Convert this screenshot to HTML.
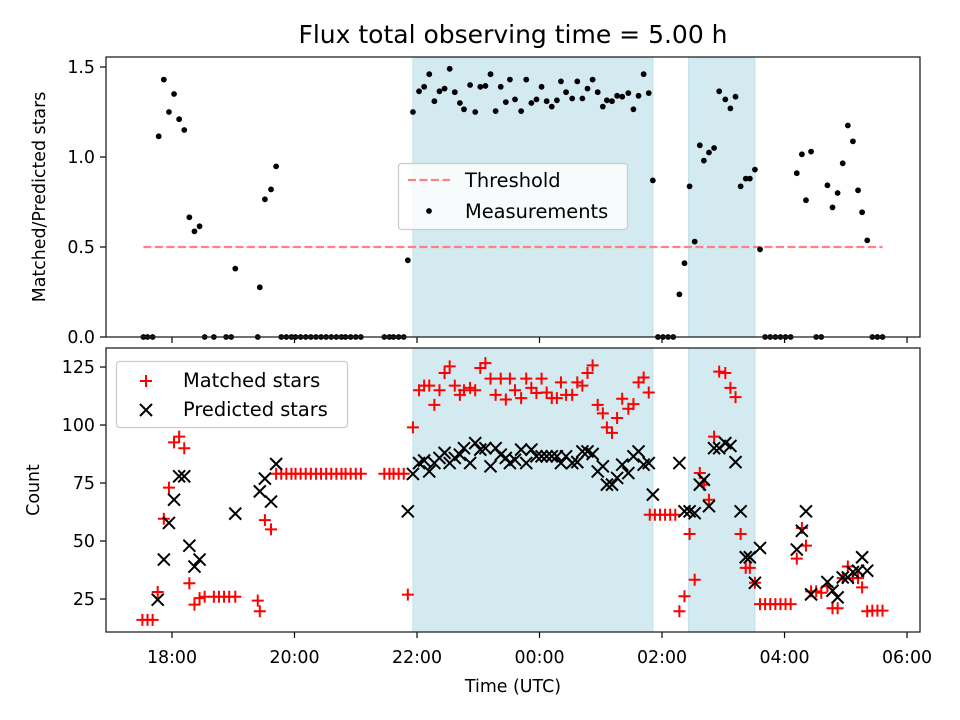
<!DOCTYPE html>
<html><head><meta charset="utf-8"><style>
html,body{margin:0;padding:0;background:#fff;}
svg{display:block;font-family:"DejaVu Sans","Liberation Sans",sans-serif;}
</style></head><body>
<svg id="fig" width="960" height="720" viewBox="0 0 960 720" xmlns="http://www.w3.org/2000/svg">
<rect width="960" height="720" fill="#fff"/>
<text x="513" y="43" font-size="25" text-anchor="middle" fill="#000">Flux total observing time = 5.00 h</text>
<text transform="translate(45,197) rotate(-90)" font-size="17.4" text-anchor="middle">Matched/Predicted stars</text>
<text transform="translate(39,490) rotate(-90)" font-size="17.4" text-anchor="middle">Count</text>
<text x="513" y="692" font-size="17.4" text-anchor="middle">Time (UTC)</text>
<g id="topPanel"></g>
<g id="botPanel"></g>
</svg>
<script>
// times in minutes after 18:00 UTC
const shadeStarts = [236, 506];
const shadeEnds = [471, 571];
const threshold = 0.5;
const thresholdRange = [-28, 696];
const xTickLabels = ["18:00","20:00","22:00","00:00","02:00","04:00","06:00"];
const xTickMinutes = [0,120,240,360,480,600,720];
const ratioTicks = [0,0.5,1.0,1.5];
const countTicks = [25,50,75,100,125];

const ratioTimes = [-28,-24,-19,-13,-8,-3,2,7,12,17,22,27,32,41,53,58,62,84,86,91,97,102,107,112,117,121,126,131,136,141,146,151,156,161,166,170,175,180,185,208,213,217,222,227,231,236,
242,247,252,257,262,267,272,277,282,286,292,297,302,307,312,317,322,327,331,336,342,347,352,357,362,367,372,377,381,386,392,397,402,407,412,417,422,426,431,436,441,447,452,457,462,467,
471,476,481,486,491,497,502,507,512,517,521,526,531,536,542,547,552,557,562,566,571,576,581,586,591,596,601,606,612,617,621,626,631,636,642,647,652,657,662,667,672,676,681,686,691,696];
const ratioValues = [0,0,0,1.115,1.43,1.25,1.35,1.21,1.15,0.665,0.587,0.615,0,0,0,0,0.38,0,0.276,0.765,0.82,0.948,0,0,0,0,0,0,0,0,0,0,0,0,0,0,0,0,0,0,0,0,0,0,0.426,1.25,
1.365,1.39,1.46,1.31,1.365,1.38,1.49,1.36,1.30,1.265,1.40,1.25,1.39,1.395,1.46,1.255,1.39,1.305,1.43,1.32,1.255,1.43,1.30,1.32,1.39,1.31,1.28,1.315,1.42,1.36,1.325,1.42,1.325,1.38,1.43,1.36,1.28,1.315,1.31,1.34,1.335,1.355,1.265,1.34,1.46,1.355,
0.87,0,0,0,0,0.237,0.41,0.837,0.53,1.065,0.98,1.025,1.05,1.365,1.32,1.27,1.335,0.837,0.88,0.88,0.93,0.487,0,0,0,0,0,0,0.91,1.015,0.76,1.03,0,0,0.843,0.72,0.80,0.965,1.175,1.087,0.815,0.693,0.537,0,0,0];

const matchedTimes = [-29,-24,-19,-14,-8,-3,2,7,12,17,22,27,32,41,46,51,56,62,84,86,91,97,
102,107,112,117,121,126,131,136,141,146,151,156,161,166,170,175,180,185,208,213,217,222,227,231,236,
242,247,252,257,262,267,272,277,282,286,292,297,302,307,312,317,322,327,331,336,342,347,352,357,362,367,372,377,381,386,392,397,402,407,412,417,422,426,431,436,441,447,452,457,462,467,
468,473,478,483,488,493,497,502,507,512,517,521,526,531,536,542,547,552,557,562,566,571,576,581,586,591,596,601,606,612,617,621,626,631,636,642,647,652,657,662,667,672,676,681,686,691,696];
const matchedValues = [16,16,16,28,59.6,73,92.5,95,90,31.8,22.6,25.4,26,26,26,26,26,26,24.3,19.7,59,55,
79,79,79,79,79,79,79,79,79,79,79,79,79,79,79,79,79,79,79,79,79,79,79,26.9,99,
115,117,117,108.7,115,122.4,125.3,117,113,115,116,115,124.6,126.7,120,113,120,111,120,115,111.6,120,116,113.8,120,114,111.6,111.6,118.4,113,113,118.4,117,122.4,125.7,108.7,105,99,96.6,103,111.3,107,109,118.4,120.5,114,
61.3,61.3,61.3,61.3,61.3,61.3,19.7,26.2,53,33.3,79.3,74.3,67.8,95,123,122.4,116,112,53,38.4,38.4,32,22.8,22.8,22.8,22.8,22.8,22.8,22.8,42.4,55.6,48,28.3,28.3,27.7,30.5,21,21,34,39,34,34,30,19.7,20,20,20];

const predictedTimes = [-14,-8,-3,2,7,12,17,22,27,62,86,91,97,102,231,236,
242,247,252,257,262,267,272,277,282,286,292,297,302,307,312,317,322,327,331,336,342,347,352,357,362,367,372,377,381,386,392,397,402,407,412,417,422,426,431,436,441,447,452,457,462,467,
471,497,502,507,512,517,521,526,531,536,542,547,552,557,562,566,571,576,612,617,621,626,642,647,652,657,662,667,672,676,681];
const predictedValues = [24.7,42,57.8,67.8,77.9,77.9,48,39,42,61.8,71.4,76.9,67,83.2,62.8,78.9,
83.6,84.7,80,83.6,85.8,88,83.6,85.8,87.2,90,83.6,92.2,89.4,90,82.2,90,87.2,85.8,83.6,85,89.4,83.6,89.4,86.5,86.5,86.5,86.5,86.5,83.6,86.5,83.6,84,88.6,88.6,87.5,80,82.2,74.3,74.3,77.2,82.9,79.3,86.5,88.6,82.9,83.6,
70,83.6,62.8,62.8,62,74.3,76.4,65,90,90,92.2,91,84,62.8,43,43,32,47,46.3,54.4,62.8,27,32.3,28.6,25.7,34.3,34.3,36.6,37.2,43,37.2];

const NS = "http://www.w3.org/2000/svg";
const L = 106, R = 920;
const xMin = -64.65, xMax = 732.7; // minutes
function xs(m){ return L + (m - xMin) / (xMax - xMin) * (R - L); }
const topY = {t:57,b:337,min:0,max:1.5556};
const botY = {t:348,b:632,min:10.78,max:133.2};
function ysTop(v){ return topY.b - (v - topY.min)/(topY.max-topY.min)*(topY.b-topY.t); }
function ysBot(v){ return botY.b - (v - botY.min)/(botY.max-botY.min)*(botY.b-botY.t); }
function mk(tag, attrs, parent){ const e=document.createElementNS(NS,tag); for(const k in attrs) e.setAttribute(k,attrs[k]); parent.appendChild(e); return e; }
const FS = 17.4;

function panel(g, box, ys, yticks, ylabels, showXLabels){
  for(let i=0;i<shadeStarts.length;i++){
    const r = mk('rect',{x:xs(shadeStarts[i]),y:box.t,width:xs(shadeEnds[i])-xs(shadeStarts[i]),height:box.b-box.t,fill:'#d4eaf1',stroke:'#bfe0ea','stroke-width':1},g);
    
    
  }
  yticks.forEach((v,i)=>{
    const y=ys(v);
    mk('line',{x1:L-6,x2:L,y1:y,y2:y,stroke:'#000','stroke-width':1.2},g);
    const t=mk('text',{x:L-11,y:y+6,'font-size':FS,'text-anchor':'end'},g);
    t.textContent=ylabels[i];
    
    
  });
  xTickMinutes.forEach((m,i)=>{
    const x=xs(m);
    mk('line',{x1:x,x2:x,y1:box.b,y2:box.b+6,stroke:'#000','stroke-width':1.2},g);
    if(showXLabels){
      const t=mk('text',{x:x,y:box.b+31,'font-size':FS,'text-anchor':'middle'},g);
      t.textContent=xTickLabels[i];
      
      
    }
  });
}

const topG = document.getElementById('topPanel');
panel(topG, topY, ysTop, ratioTicks, ["0.0","0.5","1.0","1.5"], false);
const th = mk('line',{x1:xs(thresholdRange[0]),x2:xs(thresholdRange[1]),y1:ysTop(threshold),y2:ysTop(threshold),stroke:'#ff8080','stroke-width':2.2,'stroke-dasharray':'8,3.5'},topG);


ratioTimes.forEach((m,i)=>{
  const c=mk('circle',{cx:xs(m),cy:ysTop(ratioValues[i]),r:2.9,fill:'#000'},topG);
  
  
});
mk('rect',{x:L,y:topY.t,width:R-L,height:topY.b-topY.t,fill:'none',stroke:'#222','stroke-width':1.3},topG);
const lg = mk('g',{},topG);


mk('rect',{x:398.5,y:163.5,width:229,height:66,rx:3,fill:'#fff','fill-opacity':0.8,stroke:'#ccc','stroke-width':1.3},lg);
mk('line',{x1:408,x2:450,y1:180,y2:180,stroke:'#ff8080','stroke-width':2.2,'stroke-dasharray':'8,3.5'},lg);
let t1=mk('text',{x:465,y:187,'font-size':FS+2},lg); t1.textContent='Threshold';


mk('circle',{cx:429,cy:211,r:2.9,fill:'#000'},lg);
let t2=mk('text',{x:465,y:218,'font-size':FS+2},lg); t2.textContent='Measurements';



const botG = document.getElementById('botPanel');
panel(botG, botY, ysBot, countTicks, ["25","50","75","100","125"], true);
function plus(x,y,g){ return mk('path',{d:`M${x-6},${y}H${x+6}M${x},${y-6}V${y+6}`,stroke:'#f00','stroke-width':2,fill:'none'},g); }
function cross(x,y,g){ return mk('path',{d:`M${x-6},${y-6}L${x+6},${y+6}M${x-6},${y+6}L${x+6},${y-6}`,stroke:'#000','stroke-width':2,fill:'none'},g); }
matchedTimes.forEach((m,i)=>{
  const p=plus(xs(m),ysBot(matchedValues[i]),botG);
  
  
});
predictedTimes.forEach((m,i)=>{
  const p=cross(xs(m),ysBot(predictedValues[i]),botG);
  
  
});
mk('rect',{x:L,y:botY.t,width:R-L,height:botY.b-botY.t,fill:'none',stroke:'#222','stroke-width':1.3},botG);
const lg2 = mk('g',{},botG);


mk('rect',{x:116.5,y:361.5,width:231,height:66,rx:3,fill:'#fff','fill-opacity':0.8,stroke:'#ccc','stroke-width':1.3},lg2);
plus(146,381,lg2);
let t3=mk('text',{x:183,y:387,'font-size':FS+2},lg2); t3.textContent='Matched stars';


cross(146,410,lg2);
let t4=mk('text',{x:183,y:416,'font-size':FS+2},lg2); t4.textContent='Predicted stars';


</script>
</body></html>
